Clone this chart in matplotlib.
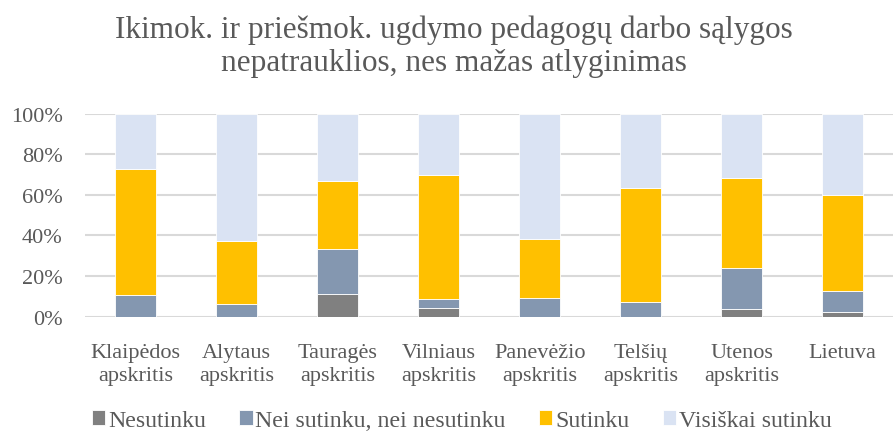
import matplotlib.pyplot as plt
import numpy as np

plt.rcParams['font.family'] = ['Liberation Serif', 'DejaVu Serif']

regions = ['Klaipėdos\napskritis', 'Alytaus\napskritis', 'Tauragės\napskritis',
           'Vilniaus\napskritis', 'Panevėžio\napskritis', 'Telšių\napskritis',
           'Utenos\napskritis', 'Lietuva']
nesutinku = [0.0, 0.0, 11.1, 4.2, 0.0, 0.0, 3.7, 2.2]
nei = [10.8, 6.1, 22.3, 4.3, 9.3, 7.1, 20.2, 10.6]
sutinku = [62.0, 31.3, 33.7, 61.3, 28.9, 56.2, 44.4, 47.2]
visiskai = [27.2, 62.6, 32.9, 30.2, 61.8, 36.7, 31.7, 40.0]

series = [('Nesutinku', nesutinku, '#808080'),
          ('Nei sutinku, nei nesutinku', nei, '#8497B0'),
          ('Sutinku', sutinku, '#FFC000'),
          ('Visiškai sutinku', visiskai, '#DAE3F3')]

fig = plt.figure(figsize=(8.95, 4.35), dpi=100)
ax = fig.add_axes([0.095, 0.27, 0.903, 0.466])

x = np.arange(len(regions))
bottom = np.zeros(len(regions))
for label, vals, col in series:
    vals = np.array(vals)
    ax.bar(x, vals, 0.4, bottom=bottom, color=col, label=label,
           edgecolor='white', linewidth=0.6, zorder=3)
    bottom += vals

ax.set_xlim(-0.5, len(regions) - 0.5)
ax.set_ylim(0, 100)
ax.set_yticks(np.arange(0, 101, 20))
ax.set_yticklabels([f'{v}%' for v in range(0, 101, 20)])
ax.set_xticks(x)
ax.set_xticklabels(regions, linespacing=1.3)
ax.tick_params(axis='y', length=0, labelsize=16, colors='#595959', pad=16)
ax.tick_params(axis='x', length=0, labelsize=16, colors='#595959', pad=19)
ax.grid(axis='y', color='#d9d9d9', linewidth=1.5, zorder=0)
for s in ax.spines.values():
    s.set_visible(False)

fig.suptitle('Ikimok. ir priešmok. ugdymo pedagogų darbo sąlygos\nnepatrauklios, nes mažas atlyginimas',
             x=0.507, fontsize=22.5, color='#595959', y=0.965, linespacing=1.2)

fig.legend(loc='lower center', ncol=4, bbox_to_anchor=(0.516, -0.042), frameon=False,
           fontsize=17.2, handlelength=0.55, handleheight=0.55, handletextpad=0.12,
           columnspacing=1.4, labelcolor='#595959')

fig.savefig('out.png', dpi=100)
